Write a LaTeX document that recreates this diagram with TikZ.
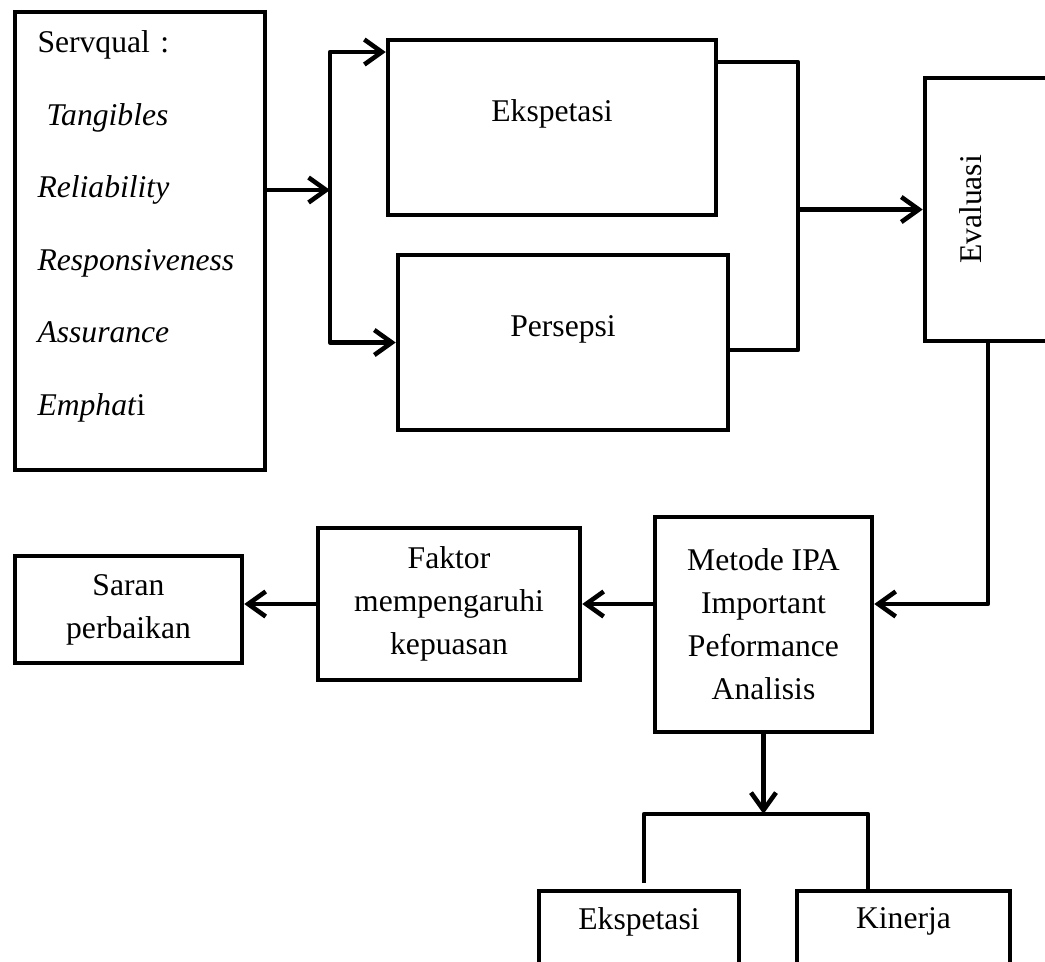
\documentclass[tikz,border=0pt]{standalone}
\usepackage{fontspec}
\setmainfont{Liberation Serif}
\usepackage{graphicx}
\usepackage{tikz}
\usetikzlibrary{arrows.meta, positioning, calc}
\tikzset{
    kotak/.style   = {draw, line width=2.6pt, font=\fontsize{18}{24.5}\selectfont,
                      align=center, inner sep=0pt},
    daftar/.style  = {kotak, align=left, inner xsep=0.44cm, text width=4.1cm,
                      font=\fontsize{18}{41.3}\selectfont},
    panah/.style   = {-{Straight Barb[length=3.5mm,width=5mm]}, line width=2.6pt},
    sambung/.style = {line width=2.6pt, line join=round},
}

\begin{document}
\begin{tikzpicture}[x=0.02cm, y=-0.02cm]
        \useasboundingbox (0,0) rectangle (1045,961);
        \clip (0,0) rectangle (1045,961);
        % kotak-kotak
        \node[daftar, minimum width=5cm, minimum height=9.16cm, text depth=7.98cm] (servqual) at (140,241)
            {Servqual :\\ \hspace*{0.18cm}\textit{Tangibles}\\ \textit{Reliability}\\ \textit{Responsiveness}\\ \textit{Assurance}\\ \textit{Emphat}i};
        \node[kotak, minimum width=6.56cm, minimum height=3.5cm, text depth=0.68cm] (ekspektasi) at (552,127.5) {Ekspetasi};
        \node[kotak, minimum width=6.6cm, minimum height=3.5cm, text depth=0.64cm] (persepsi) at (563,342.5) {Persepsi};
        \node[kotak, minimum width=3.1cm, minimum height=5.26cm] (evaluasi) at (1002.5,209.5) {\rotatebox{90}{Evaluasi}\hspace{1.26cm}};
        \node[kotak, minimum width=4.34cm, minimum height=4.3cm] (ipa) at (763.5,624.5)
            {Metode IPA\\ Important\\ Peformance\\ Analisis};
        \node[kotak, minimum width=5.24cm, minimum height=3.04cm] (faktor) at (449,604) {Faktor\\ mempengaruhi\\ kepuasan};
        \node[kotak, minimum width=4.54cm, minimum height=2.14cm] (saran) at (128.5,609.5) {Saran\\ perbaikan};
        \node[kotak, minimum width=4cm, minimum height=1.88cm, text depth=0.78cm] (harapan) at (639,938) {Ekspetasi};
        \node[kotak, minimum width=4.26cm, minimum height=1.88cm, text depth=0.78cm] (kinerja) at (903.5,938) {Kinerja};
        % titik bantu
        \coordinate (cabang) at (330,190);
        \coordinate (c-atas) at (330,52);
        \coordinate (gabung-atas) at (798,62);
        \coordinate (gabung-bawah) at (798,350);
        \coordinate (kaki) at (988,0);
        \coordinate (bagi-kiri) at (644,814);
        \coordinate (bagi-kanan) at (868,814);
        \coordinate (ujung-kiri) at (644,883);
        % garis
        \draw[panah] (servqual.east |- cabang) -- (cabang);
        \draw[sambung, panah] (persepsi.west -| c-atas) -- (c-atas) -- (ekspektasi.west |- c-atas);
        \draw[sambung, panah] (c-atas) |- (persepsi.west);
        \draw[sambung] (ekspektasi.east |- gabung-atas) -- (gabung-atas) -- (gabung-bawah) -- (persepsi.east |- gabung-bawah);
        \draw[panah] (evaluasi.west -| gabung-atas) -- (evaluasi.west);
        \draw[sambung, panah] (evaluasi.south -| kaki) |- (ipa.east |- faktor.east);
        \draw[panah] (ipa.west |- faktor.east) -- (faktor.east);
        \draw[panah] (faktor.west) -- (saran.east |- faktor.west);
        \draw[panah] (ipa.south) -- (ipa.south |- bagi-kiri);
        \draw[sambung] (ujung-kiri) -- (bagi-kiri) -- (bagi-kanan) -- (kinerja.north -| bagi-kanan);
\end{tikzpicture}
\end{document}
